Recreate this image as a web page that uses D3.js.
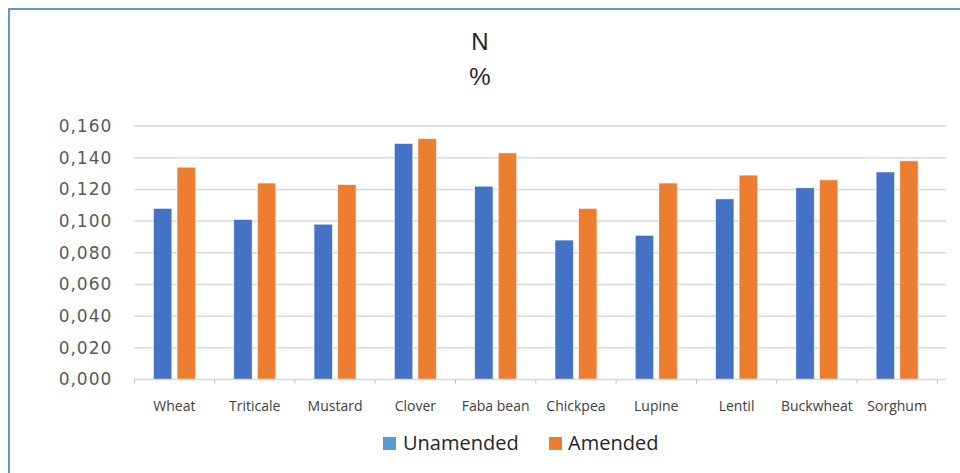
<!DOCTYPE html>
<html>
<head>
<meta charset="utf-8">
<script src="https://cdn.jsdelivr.net/npm/d3@7"></script>
<style>
  html, body { margin: 0; padding: 0; background: #fff; }
  svg { display: block; }
</style>
</head>
<body>
<svg id="chart" width="960" height="473"></svg>
<script>
// Crop nitrogen content (%) for unamended and amended soil
const categories = ["Wheat", "Triticale", "Mustard", "Clover", "Faba bean", "Chickpea", "Lupine", "Lentil", "Buckwheat", "Sorghum"];
const seriesNames = ["Unamended", "Amended"];
const unamended = [0.108, 0.101, 0.098, 0.149, 0.122, 0.088, 0.091, 0.114, 0.121, 0.131];
const amended   = [0.134, 0.124, 0.123, 0.152, 0.143, 0.108, 0.124, 0.129, 0.126, 0.138];
const yTicks = [0, 0.02, 0.04, 0.06, 0.08, 0.1, 0.12, 0.14, 0.16];
const barColors = ["#4472C4", "#ED7D31"];
const legendColors = ["#5B9BD5", "#ED7D31"];

const rows = categories.map((c, i) => ({ cat: c, values: [unamended[i], amended[i]] }));

const svg = d3.select("#chart");

// outer frame
svg.append("rect")
  .attr("x", 9).attr("y", 9)
  .attr("width", 1000).attr("height", 1000)
  .attr("fill", "none")
  .attr("stroke", "#5B9BD5")
  .attr("stroke-width", 2);

// title
const title = svg.append("g")
  .attr("font-family", "'Liberation Sans', Arial, sans-serif")
  .attr("font-size", 24)
  .attr("fill", "#262626")
  .attr("text-anchor", "middle");
title.append("text").attr("x", 480).attr("y", 50).text("N");
title.append("text").attr("x", 480).attr("y", 85).text("%");

const plotLeft = 134.3, plotRight = 937.3, plotTop = 126, plotBottom = 379.5;

const x0 = d3.scaleBand().domain(categories).range([plotLeft, plotRight]).padding(0);
const groupW = 42;
const x1 = d3.scaleBand().domain(seriesNames).range([0, groupW]).paddingInner(0.22);
const y = d3.scaleLinear().domain([0, 0.16]).range([plotBottom, plotTop]);

// gridlines
svg.append("g")
  .selectAll("line")
  .data(yTicks.filter(t => t > 0))
  .join("line")
  .attr("x1", plotLeft).attr("x2", 946)
  .attr("y1", d => y(d)).attr("y2", d => y(d))
  .attr("stroke", "#D9D9D9")
  .attr("stroke-width", 1.5);

// y axis labels
const fmt = v => d3.format(".3f")(v).replace(".", ",");
const yAxis = svg.append("g")
  .attr("transform", `translate(${plotLeft},0)`)
  .call(d3.axisLeft(y).tickValues(yTicks).tickFormat(fmt).tickSize(0).tickPadding(22));
yAxis.select(".domain").remove();
yAxis.selectAll("text")
  .attr("font-family", "'DejaVu Sans', sans-serif")
  .attr("font-size", 17)
  .attr("letter-spacing", 1)
  .attr("fill", "#595959");

// bars
const groups = svg.append("g")
  .selectAll("g")
  .data(rows)
  .join("g")
  .attr("transform", d => `translate(${x0(d.cat) + (x0.bandwidth() - groupW) / 2},0)`);

groups.selectAll("rect")
  .data(d => d.values.map((v, i) => ({ key: seriesNames[i], v, i })))
  .join("rect")
  .attr("x", d => x1(d.key))
  .attr("width", x1.bandwidth())
  .attr("y", d => y(d.v))
  .attr("height", d => y(0) - y(d.v))
  .attr("fill", d => barColors[d.i])
  .attr("stroke", "#ffffff")
  .attr("stroke-opacity", 0.7)
  .attr("stroke-width", 0.8);

// x axis with category ticks on the boundaries
svg.append("line")
  .attr("x1", plotLeft).attr("x2", 946)
  .attr("y1", plotBottom).attr("y2", plotBottom)
  .attr("stroke", "#D9D9D9").attr("stroke-width", 1.5);

const boundaries = categories.map(c => x0(c)).concat([plotRight]);
svg.append("g")
  .selectAll("line")
  .data(boundaries)
  .join("line")
  .attr("x1", d => d).attr("x2", d => d)
  .attr("y1", plotBottom).attr("y2", plotBottom + 4)
  .attr("stroke", "#BFBFBF").attr("stroke-width", 1);

svg.append("g")
  .selectAll("text")
  .data(categories)
  .join("text")
  .attr("x", d => x0(d) + x0.bandwidth() / 2)
  .attr("y", 411)
  .attr("text-anchor", "middle")
  .attr("font-family", "'Open Sans', sans-serif")
  .attr("font-size", 14)
  .attr("fill", "#404040")
  .text(d => d);

// legend
const legendItems = [
  { name: seriesNames[0], color: legendColors[0], sx: 383, tx: 403 },
  { name: seriesNames[1], color: legendColors[1], sx: 549, tx: 568 }
];
const lg = svg.append("g");
lg.selectAll("rect")
  .data(legendItems)
  .join("rect")
  .attr("x", d => d.sx).attr("y", 437)
  .attr("width", 13).attr("height", 13)
  .attr("fill", d => d.color);
lg.selectAll("text")
  .data(legendItems)
  .join("text")
  .attr("x", d => d.tx).attr("y", 450)
  .attr("font-family", "'Open Sans', sans-serif")
  .attr("font-size", 20)
  .attr("fill", "#262626")
  .text(d => d.name);
</script>
</body>
</html>
